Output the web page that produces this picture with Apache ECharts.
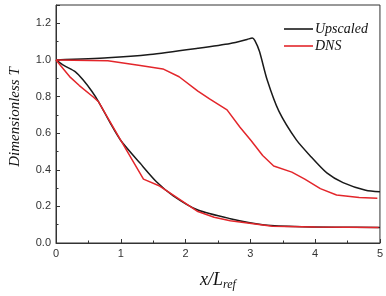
<!DOCTYPE html>
<html>
<head>
<meta charset="utf-8">
<script src="https://cdn.jsdelivr.net/npm/echarts@6/dist/echarts.min.js"></script>
<style>
  html, body { margin: 0; padding: 0; background: #fff; }
  #chart { width: 386px; height: 296px; }
</style>
</head>
<body>
<div id="chart"></div>
<script>
// data, [x, T] pairs
var upscaledHigh = [
  [0, 1.0], [0.8, 1.012], [1.45, 1.03], [2.19, 1.064], [2.69, 1.09],
  [2.95, 1.112], [3.03, 1.12], [3.07, 1.105], [3.14, 1.047], [3.26, 0.89],
  [3.44, 0.72], [3.71, 0.563], [3.94, 0.47], [4.18, 0.383], [4.43, 0.33],
  [4.78, 0.288], [5.0, 0.28]
];
var upscaledLow = [
  [0, 1.0], [0.12, 0.97], [0.3, 0.935], [0.42, 0.89], [0.55, 0.83],
  [0.66, 0.77], [0.83, 0.66], [1.0, 0.56], [1.3, 0.435], [1.55, 0.335],
  [1.81, 0.258], [2.19, 0.18], [2.69, 0.133], [3.19, 0.1], [3.69, 0.09],
  [4.3, 0.086], [5.0, 0.085]
];
var dnsHigh = [
  [0, 1.0], [0.8, 0.995], [1.3, 0.969], [1.65, 0.951], [1.9, 0.908],
  [2.19, 0.83], [2.37, 0.787], [2.64, 0.727], [2.84, 0.632], [3.01, 0.56],
  [3.19, 0.478], [3.36, 0.421], [3.64, 0.387], [3.84, 0.349], [4.08, 0.297],
  [4.33, 0.262], [4.68, 0.249], [4.96, 0.245]
];
var dnsLow = [
  [0, 1.0], [0.21, 0.909], [0.36, 0.86], [0.58, 0.796], [0.66, 0.77],
  [1.0, 0.56], [1.35, 0.349], [1.6, 0.311], [1.81, 0.262], [2.19, 0.172],
  [2.44, 0.141], [2.69, 0.122], [3.34, 0.091], [4.0, 0.087], [4.98, 0.085]
];
var legendNames = ["Upscaled", "DNS"];

var black = "#1a1a1a";
var red = "#e3262b";
var serif = "Liberation Serif";
var sans = "Liberation Sans";

var myChart = echarts.init(document.getElementById("chart"));

function line(name, data, color, smooth) {
  return {
    name: name,
    type: "line",
    data: data,
    smooth: smooth,
    symbol: "none",
    lineStyle: { color: color, width: 1.5 },
    itemStyle: { color: color },
  };
}

option = {
  animation: false,
  grid: {
    left: 46,
    right: 5,
    top: 5,
    bottom: 41,
    show: true,
    borderColor: "#333",
    borderWidth: 1,
  },
  legend: {
    data: legendNames,
    orient: "vertical",
    left: 279,
    top: 17,
    icon: "rect",
    itemWidth: 29,
    itemHeight: 1.6,
    itemGap: 3,
    textStyle: {
      fontFamily: serif,
      fontStyle: "italic",
      fontSize: 14,
      lineHeight: 14,
      color: "#111",
      padding: [0, 0, 0, -3],
    },
  },
  xAxis: {
    type: "value",
    min: 0,
    max: 5,
    interval: 1,
    name: "{a|x/L}{s|ref}",
    nameLocation: "middle",
    nameGap: 26,
    nameTextStyle: {
      rich: {
        a: { fontFamily: serif, fontStyle: "italic", fontSize: 18, color: "#111" },
        s: { fontFamily: serif, fontStyle: "italic", fontSize: 12, color: "#111", padding: [10, 0, 0, 0] },
      },
    },
    axisLine: { lineStyle: { color: "#333" } },
    axisTick: { inside: true, length: 4, lineStyle: { color: "#333" } },
    minorTick: { show: true, splitNumber: 2, length: 2.5, lineStyle: { color: "#333" } },
    splitLine: { show: false },
    axisLabel: { fontFamily: sans, fontSize: 11, color: "#333", margin: 5 },
  },
  yAxis: {
    type: "value",
    min: 0,
    max: 1.3,
    interval: 0.2,
    name: "Dimensionless T",
    nameLocation: "middle",
    nameGap: 33,
    nameTextStyle: { fontFamily: serif, fontStyle: "italic", fontSize: 15, color: "#111", padding: [0, 0, 0, 14] },
    axisLine: { lineStyle: { color: "#333" } },
    axisTick: { inside: true, length: 4, lineStyle: { color: "#333" } },
    minorTick: { show: true, splitNumber: 2, length: 2.5, lineStyle: { color: "#333" } },
    splitLine: { show: false },
    axisLabel: {
      fontFamily: sans,
      fontSize: 11,
      color: "#333",
      margin: 5,
      showMaxLabel: false,
      formatter: function (v) { return v.toFixed(1); },
    },
  },
  series: [
    line("Upscaled", upscaledHigh, black, 0.25),
    line("Upscaled", upscaledLow, black, 0.25),
    line("DNS", dnsHigh, red, false),
    line("DNS", dnsLow, red, false),
  ],
};

myChart.setOption(option);
</script>
</body>
</html>
